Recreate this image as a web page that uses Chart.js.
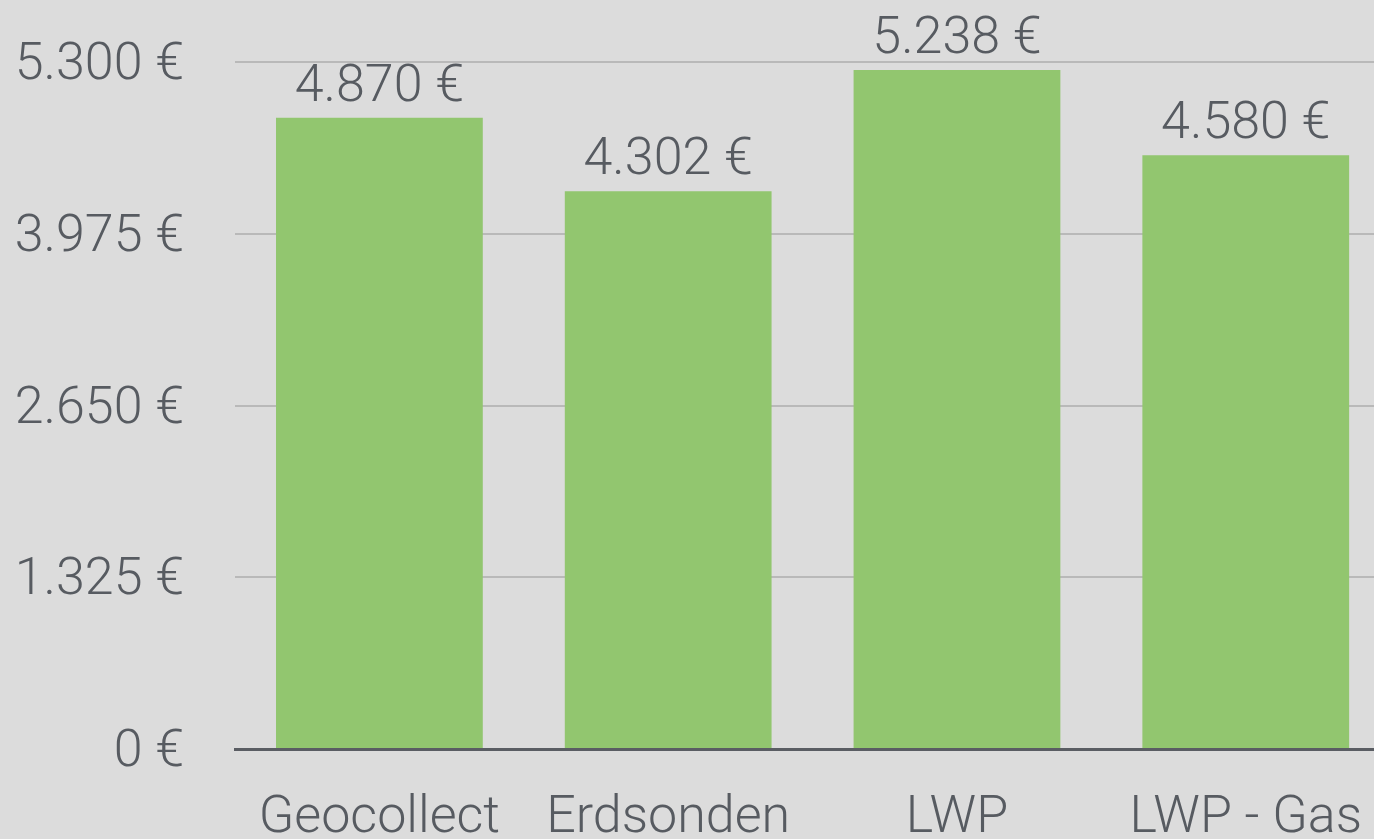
<!DOCTYPE html>
<html>
<head>
<meta charset="utf-8">
<script src="https://cdn.jsdelivr.net/npm/chart.js@4"></script>
<style>
  html, body { margin: 0; padding: 0; background: #dcdcdc; overflow: hidden; }
  #wrap { position: absolute; left: 0; top: 0; width: 1401px; height: 900px; }
</style>
</head>
<body>
<div id="wrap"><canvas id="grafico"></canvas></div>
<script>
// Daten
const kategorien = ['Geocollect', 'Erdsonden', 'LWP', 'LWP - Gas'];
const kosten = [4870, 4302, 5238, 4580];
const yTicks = [0, 1325, 2650, 3975, 5300];

const textFarbe = '#575b61';
const schrift = { family: 'Roboto', size: 52, weight: 300 };

// Zahl im deutschen Format: 5.300 €
const euro = v => String(Math.round(v)).replace(/\B(?=(\d{3})+(?!\d))/g, '.') + ' €';

// Werte über den Balken
const wertLabels = {
  id: 'wertLabels',
  afterDatasetsDraw(chart) {
    const ctx = chart.ctx;
    const meta = chart.getDatasetMeta(0);
    ctx.save();
    ctx.font = `${schrift.weight} ${schrift.size}px ${schrift.family}`;
    ctx.fillStyle = textFarbe;
    ctx.textAlign = 'center';
    ctx.textBaseline = 'alphabetic';
    meta.data.forEach((bar, i) => {
      ctx.fillText(euro(kosten[i]), bar.x, bar.y - 17);
    });
    ctx.restore();
  }
};

new Chart(document.getElementById('grafico'), {
  type: 'bar',
  data: {
    labels: kategorien,
    datasets: [{
      data: kosten,
      backgroundColor: '#92c66f',
      barPercentage: 0.716,
      categoryPercentage: 1
    }]
  },
  plugins: [wertLabels],
  options: {
    responsive: true,
    maintainAspectRatio: false,
    animation: false,
    layout: { padding: { top: 62, left: 0, right: 0, bottom: 0 } },
    plugins: { legend: { display: false }, tooltip: { enabled: false } },
    scales: {
      x: {
        grid: { display: false, drawTicks: false },
        border: { display: true, color: '#5a5d63', width: 3 },
        ticks: { color: textFarbe, font: schrift, padding: 39, maxRotation: 0, autoSkip: false },
        afterFit: s => { s.height = 151; }
      },
      y: {
        min: 0,
        max: 5300,
        afterBuildTicks: s => { s.ticks = yTicks.map(v => ({ value: v })); },
        afterFit: s => { s.width = 235; },
        // unsichtbare Ticks als Abstand zwischen Beschriftung und Diagramm
        grid: { color: '#b9b9b9', lineWidth: 2, drawTicks: true, tickLength: 51, tickColor: 'rgba(0,0,0,0)' },
        border: { display: false },
        ticks: { color: textFarbe, font: schrift, padding: 0, labelOffset: 4, callback: v => euro(v) }
      }
    }
  }
});
</script>
</body>
</html>
